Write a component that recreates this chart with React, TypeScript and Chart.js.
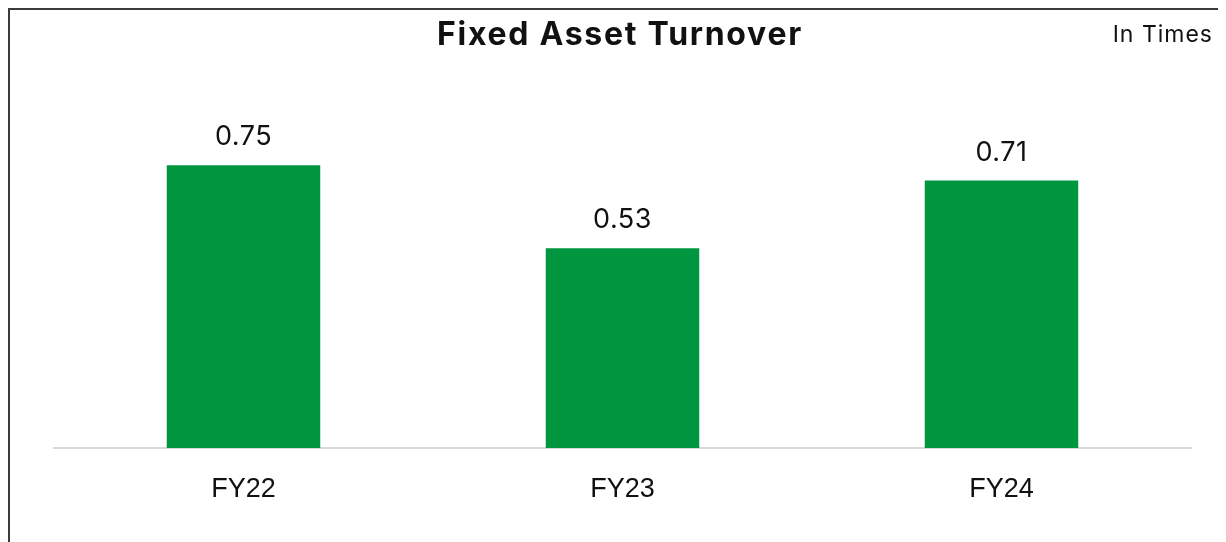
import React, { useEffect, useRef } from "react";
import { Chart, registerables } from "chart.js";

Chart.register(...registerables);

const categories = ["FY22", "FY23", "FY24"];
const turnover = [0.75, 0.53, 0.71];
const chartTitle = "Fixed Asset Turnover";
const unitLabel = "In Times";

const textPlugin = {
  id: "textPlugin",
  afterDatasetsDraw(chart: any) {
    const ctx = chart.ctx;
    ctx.save();
    ctx.fillStyle = "#111111";
    ctx.textBaseline = "middle";
    ctx.textAlign = "center";
    ctx.font = "bold 32px Inter";
    try { (ctx as any).letterSpacing = "1.7px"; } catch (e) {}
    ctx.fillText(chartTitle, 610, 25);
    try { (ctx as any).letterSpacing = "1px"; } catch (e) {}
    ctx.font = "23px Inter";
    ctx.textAlign = "right";
    ctx.fillText(unitLabel, 1203, 25);
    try { (ctx as any).letterSpacing = "0.5px"; } catch (e) {}
    const meta = chart.getDatasetMeta(0);
    ctx.textAlign = "center";
    ctx.font = "27px Inter";
    meta.data.forEach((bar: any, i: number) => {
      ctx.fillText(turnover[i].toFixed(2), bar.x, bar.y - 28);
    });
    ctx.restore();
  },
};

export default function App() {
  const ref = useRef<HTMLCanvasElement>(null);
  useEffect(() => {
    if (!ref.current) return;
    const chart = new Chart(ref.current, {
      type: "bar",
      data: {
        labels: categories,
        datasets: [
          {
            data: turnover,
            backgroundColor: "#009640",
            barPercentage: 0.81,
            categoryPercentage: 0.5,
          },
        ],
      },
      options: {
        animation: false,
        responsive: false,
        layout: { padding: { left: 44, right: 35, top: 80, bottom: 0 } },
        plugins: { legend: { display: false }, title: { display: false }, tooltip: { enabled: false } },
        scales: {
          x: {
            grid: { display: false },
            border: { display: true, color: "#d9d9d9", width: 2 },
            ticks: { color: "#111111", font: { family: "Liberation Sans, Arial", size: 27 }, padding: 17 },
            afterFit(scale: any) { scale.height = 94; },
          },
          y: { display: false, min: 0, max: 0.95 },
        },
      },
      plugins: [textPlugin],
    });
    return () => chart.destroy();
  }, []);
  return (
    <div style={{ width: 1216, height: 532, borderLeft: "2px solid #3a3a3a", borderTop: "2px solid #3a3a3a", background: "#fff" }}>
      <canvas ref={ref} width={1216} height={532} style={{ display: "block" }} />
    </div>
  );
}
